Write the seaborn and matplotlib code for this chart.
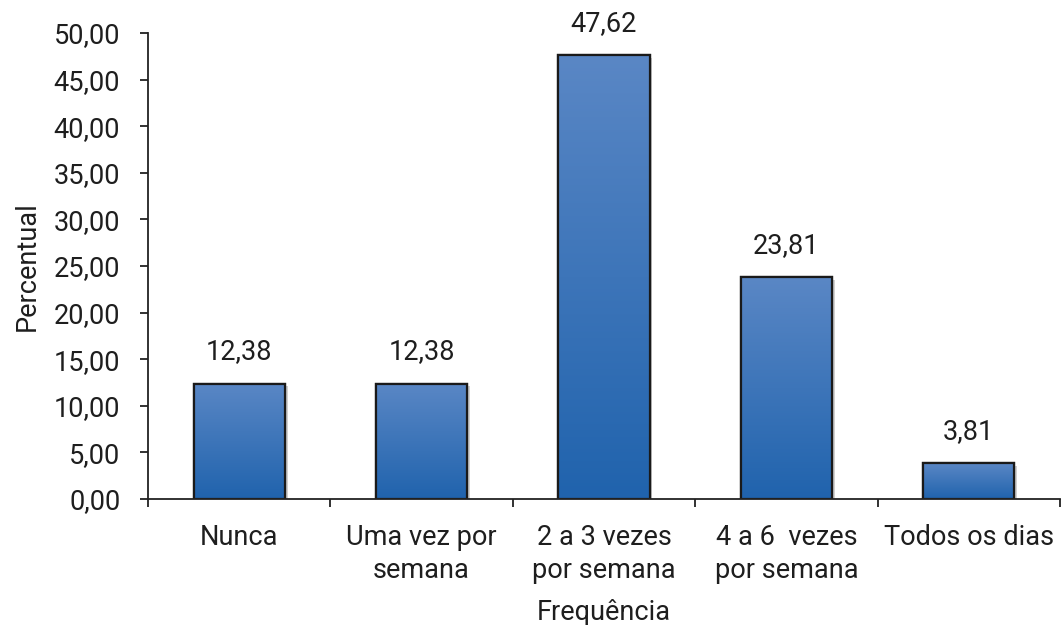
import numpy as np
import pandas as pd
import matplotlib
matplotlib.use("Agg")
import matplotlib.pyplot as plt
import matplotlib.patheffects as pe
from matplotlib.colors import LinearSegmentedColormap
from matplotlib.ticker import FixedLocator, FuncFormatter
import seaborn as sns

categories = ["Nunca", "Uma vez por\nsemana", "2 a 3 vezes\npor semana", "4 a 6  vezes\npor semana", "Todos os dias"]
values = [12.38, 12.38, 47.62, 23.81, 3.81]
value_labels = ["12,38", "12,38", "47,62", "23,81", "3,81"]
y_ticks = [0, 5, 10, 15, 20, 25, 30, 35, 40, 45, 50]

sns.set_theme(style="white")
plt.rcParams['font.family'] = ['Roboto', 'DejaVu Sans']

FS = 19.5
TXT = "#1e1e1e"

df = pd.DataFrame({"cat": categories, "val": values})

fig = plt.figure(figsize=(10.62, 6.25), dpi=100)
ax = fig.add_axes([0.1394, 0.2016, 0.8586, 0.7456])

sns.barplot(data=df, x="cat", y="val", ax=ax, width=0.5, color="#3a74b9",
            edgecolor="#1a1a1a", linewidth=1.6, saturation=1)

cmap = LinearSegmentedColormap.from_list("g", ["#2063ad", "#5a87c5"])
grad = np.linspace(0, 1, 256).reshape(-1, 1)
for p, lab in zip(ax.patches, value_labels):
    x0, y0 = p.get_x(), p.get_y()
    w, h = p.get_width(), p.get_height()
    p.set_path_effects([pe.SimplePatchShadow(offset=(2, -2), shadow_rgbFace="#000000", alpha=0.18), pe.Normal()])
    im = ax.imshow(grad, cmap=cmap, origin="lower", aspect="auto",
                   extent=[x0, x0 + w, y0, y0 + h], zorder=p.get_zorder() + 0.1)
    im.set_clip_path(p)
    edge = plt.Rectangle((x0, y0), w, h, fill=False, edgecolor="#1a1a1a", linewidth=1.6,
                         zorder=p.get_zorder() + 0.2)
    ax.add_patch(edge)
    ax.text(x0 + w / 2, y0 + h + 2.6, lab, ha="center", va="baseline", fontsize=FS, color=TXT)

ax.set_xlim(-0.5, len(categories) - 0.5)
ax.set_ylim(0, 50)
ax.yaxis.set_major_locator(FixedLocator(y_ticks))
ax.yaxis.set_major_formatter(FuncFormatter(lambda v, _: f"{v:.2f}".replace(".", ",")))

ax.set_xticks(range(len(categories)))
ax.set_xticklabels(categories, fontsize=FS, color=TXT, linespacing=1.3)
ax.xaxis.set_minor_locator(FixedLocator(np.arange(-0.5, len(categories), 1.0)))
ax.tick_params(axis="x", which="major", length=0, pad=18)
ax.tick_params(axis="x", which="minor", length=6, width=1.3, color="#222222", direction="out", bottom=True)
ax.tick_params(axis="y", length=6, width=1.3, color="#222222", direction="out", left=True,
               labelsize=FS, labelcolor=TXT, pad=14)

for s in ["top", "right"]:
    ax.spines[s].set_visible(False)
for s in ["left", "bottom"]:
    ax.spines[s].set_color("#222222")
    ax.spines[s].set_linewidth(1.3)

ax.set_xlabel("Frequência", fontsize=FS, color=TXT)
ax.set_ylabel("Percentual", fontsize=FS, color=TXT)
ax.xaxis.set_label_coords(0.5, -0.214)
ax.yaxis.set_label_coords(-0.118, 0.5)

fig.savefig("out.png", dpi=100)
